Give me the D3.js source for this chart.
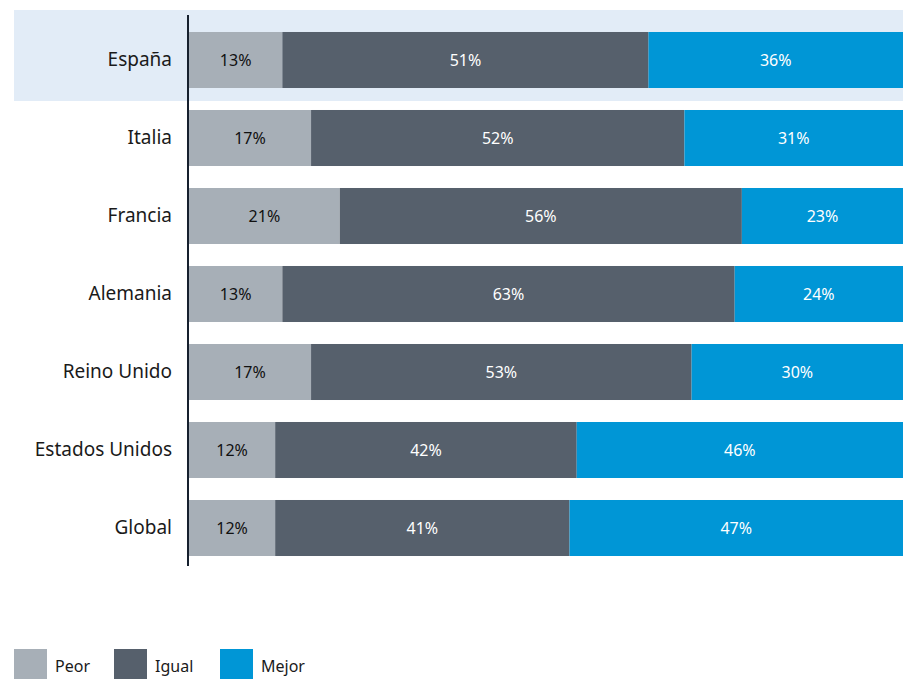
<!DOCTYPE html>
<html>
<head>
<meta charset="utf-8">
<script src="https://cdn.jsdelivr.net/npm/d3@7"></script>
<style>
  html, body { margin: 0; padding: 0; background: #fff; }
  svg { display: block; font-family: "Noto Sans", "Open Sans", sans-serif; }
</style>
</head>
<body>
<svg id="chart" width="903" height="679"></svg>
<script>
// Country categories, top to bottom
const countries = ["España", "Italia", "Francia", "Alemania", "Reino Unido", "Estados Unidos", "Global"];
// Share of answers per country (%)
const peor  = [13, 17, 21, 13, 17, 12, 12];
const igual = [51, 52, 56, 63, 53, 42, 41];
const mejor = [36, 31, 23, 24, 30, 46, 47];
const seriesNames = ["Peor", "Igual", "Mejor"];
const highlighted = "España";

const colors = { Peor: "#a7afb7", Igual: "#56606c", Mejor: "#0096d6" };
const labelColors = { Peor: "#111111", Igual: "#ffffff", Mejor: "#ffffff" };

const svg = d3.select("#chart");
const axisX = 188;

const rows = countries.map((c, i) => ({ country: c, Peor: peor[i], Igual: igual[i], Mejor: mejor[i] }));
const stacked = d3.stack().keys(seriesNames)(rows);

const x = d3.scaleLinear().domain([0, 100]).range([axisX + 1, 907]);
const y = d3.scaleBand().domain(countries).range([21, 567]).paddingInner(0.282).paddingOuter(0.141);

// highlight band behind the selected country
svg.append("rect")
  .attr("x", 14).attr("width", 903 - 14)
  .attr("y", 10)
  .attr("height", 91)
  .attr("fill", "#e2ecf7");

// stacked bars
const layers = svg.append("g").selectAll("g").data(stacked).join("g")
  .attr("fill", d => colors[d.key]);

layers.selectAll("rect").data(d => d.map(v => ({ v, key: d.key })))
  .join("rect")
  .attr("x", d => x(d.v[0]))
  .attr("width", d => x(d.v[1]) - x(d.v[0]))
  .attr("y", d => y(d.v.data.country))
  .attr("height", y.bandwidth());

// value labels centred in each segment
layers.selectAll("text").data(d => d.map(v => ({ v, key: d.key })))
  .join("text")
  .attr("x", d => (x(d.v[0]) + Math.min(x(d.v[1]), 903)) / 2)
  .attr("y", d => y(d.v.data.country) + y.bandwidth() / 2)
  .attr("dy", "0.35em")
  .attr("text-anchor", "middle")
  .attr("font-size", 16)
  .attr("fill", d => labelColors[d.key])
  .text(d => (d.v[1] - d.v[0]) + "%");

// category axis
const yAxis = svg.append("g")
  .attr("transform", `translate(${axisX},0)`)
  .call(d3.axisLeft(y).tickSize(0).tickPadding(16));
yAxis.select(".domain").remove();
yAxis.selectAll("text")
  .attr("font-size", 19)
  .attr("fill", "#1a1a1a")
  .style("font-family", "'Noto Sans', 'Open Sans', sans-serif");

svg.append("line")
  .attr("x1", axisX).attr("x2", axisX)
  .attr("y1", 15).attr("y2", 566)
  .attr("stroke", "#16202e").attr("stroke-width", 2);

// legend
const legendX = [14, 114, 220];
const legend = svg.append("g").selectAll("g").data(seriesNames).join("g")
  .attr("transform", (d, i) => `translate(${legendX[i]},649)`);
legend.append("rect").attr("width", 33).attr("height", 30).attr("fill", d => colors[d]);
legend.append("text")
  .attr("x", 41).attr("y", 17).attr("dy", "0.35em")
  .attr("font-size", 16).attr("fill", "#1a1a1a")
  .text(d => d);
</script>
</body>
</html>
